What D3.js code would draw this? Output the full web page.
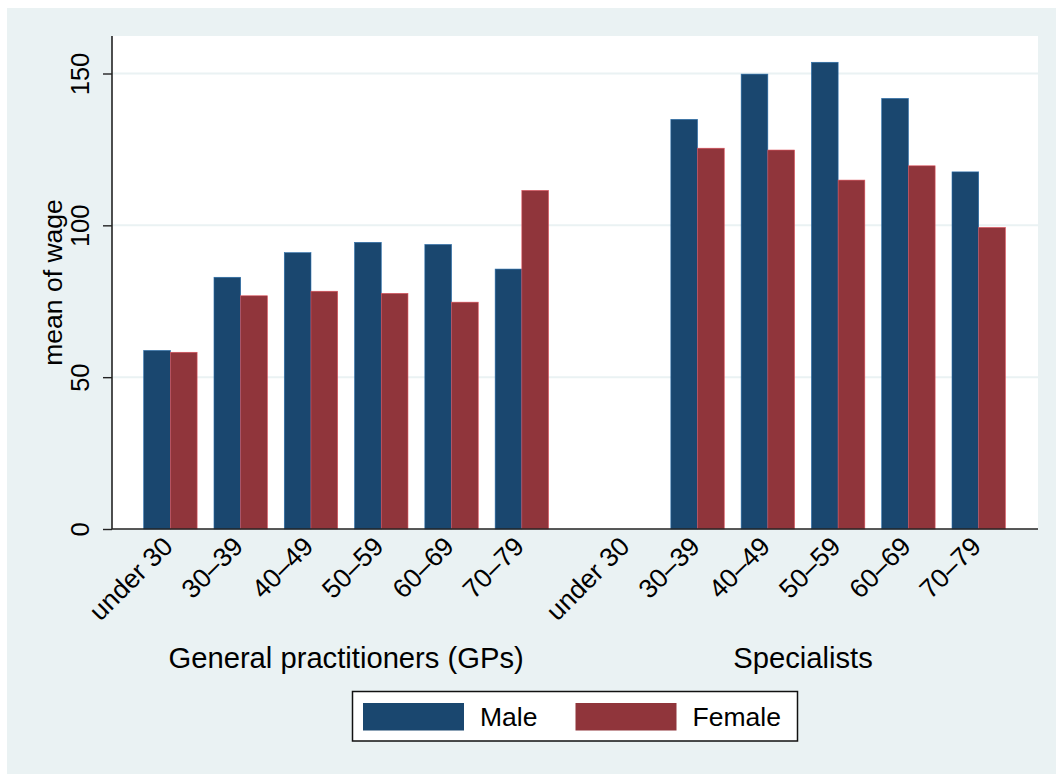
<!DOCTYPE html>
<html>
<head>
<meta charset="utf-8">
<script src="https://cdn.jsdelivr.net/npm/d3@7"></script>
<style>
  body { margin: 0; background: #fff; }
  text { font-family: "Liberation Sans", Arial, Helvetica, sans-serif; fill: #000; }
</style>
</head>
<body>
<script>
// chart values
const ageGroups = ["under 30", "30\u201339", "40\u201349", "50\u201359", "60\u201369", "70\u201379"]
const occupations = ["General practitioners (GPs)", "Specialists"]
const seriesNames = ["Male", "Female"]
const maleGP = [58.8, 82.9, 91.0, 94.4, 93.7, 85.6]
const femaleGP = [58.2, 76.8, 78.3, 77.6, 74.7, 111.5]
const maleSpec = [null, 134.9, 149.8, 153.7, 141.8, 117.6]
const femaleSpec = [null, 125.4, 124.8, 114.9, 119.6, 99.3]
const yTicks = [0, 50, 100, 150]

const width = 1056
const height = 774
const colors = ["#1a476f", "#90353b"]
const bgColor = "#eaf2f3"

const plot = {left: 112, right: 1038, top: 36, bottom: 529}
const barW = 26.7

// slot index: GPs 0..5, specialists 6.5..11.5 (half-slot gap between the two)
const rows = []
occupations.forEach(function (occ, oi) {
  const m = oi === 0 ? maleGP : maleSpec
  const f = oi === 0 ? femaleGP : femaleSpec
  ageGroups.forEach(function (age, ai) {
    rows.push({occ: oi, age: age, slot: oi * 6.5 + ai, vals: [m[ai], f[ai]]})
  })
})

const x = d3.scaleLinear().domain([0, 11.5]).range([170.4, 978.7])
const y = d3.scaleLinear().domain([0, 150]).range([plot.bottom, 73.5])

const svg = d3.select("body").append("svg")
    .attr("width", width)
    .attr("height", height)

svg.append("rect")
    .attr("x", 7).attr("y", 8)
    .attr("width", width - 7).attr("height", height - 8)
    .attr("fill", bgColor)

svg.append("rect")
    .attr("x", plot.left).attr("y", plot.top)
    .attr("width", plot.right - plot.left).attr("height", plot.bottom - plot.top)
    .attr("fill", "#fff")

// gridlines
svg.selectAll(".grid")
    .data(yTicks.filter(function (d) { return d > 0 }))
    .enter().append("line")
    .attr("x1", plot.left).attr("x2", plot.right)
    .attr("y1", function (d) { return y(d) }).attr("y2", function (d) { return y(d) })
    .attr("stroke", bgColor)
    .attr("stroke-width", 2)

// bars
const groups = svg.selectAll(".grp")
    .data(rows)
    .enter().append("g")

groups.selectAll("rect")
    .data(function (d) {
      return d.vals.map(function (v, i) { return {v: v, i: i, slot: d.slot} })
        .filter(function (b) { return b.v !== null })
    })
    .enter().append("rect")
    .attr("x", function (b) { return x(b.slot) - barW + b.i * barW })
    .attr("y", function (b) { return y(b.v) })
    .attr("width", barW)
    .attr("height", function (b) { return y(0) - y(b.v) })
    .attr("fill", function (b) { return colors[b.i] })
    .attr("stroke", function (b) { return d3.color(colors[b.i]).brighter(1.2) })
    .attr("stroke-width", 0.6)

// y axis
const yAxis = svg.append("g")
    .attr("transform", `translate(${plot.left},0)`)
    .call(d3.axisLeft(y).tickValues(yTicks).tickSize(9).tickPadding(0).tickFormat(d3.format("d")))
yAxis.select(".domain").attr("d", `M0,${plot.top}V${plot.bottom}`).attr("stroke", "#222").attr("stroke-width", 1.6)
yAxis.selectAll(".tick line").attr("stroke", "#222").attr("stroke-width", 1.4)
yAxis.selectAll(".tick text")
    .attr("font-size", 25.5)
    .attr("font-family", "Liberation Sans, Arial, sans-serif")
    .attr("fill", "#000")
    .attr("text-anchor", "middle")
    .attr("x", null).attr("dy", null)
    .attr("transform", "translate(-23,0) rotate(-90)")

svg.append("text")
    .attr("transform", `translate(62,${(plot.top + plot.bottom) / 2}) rotate(-90)`)
    .attr("text-anchor", "middle")
    .attr("font-size", 26.5)
    .text("mean of wage")

// x axis line
svg.append("line")
    .attr("x1", plot.left).attr("x2", plot.right)
    .attr("y1", plot.bottom).attr("y2", plot.bottom)
    .attr("stroke", "#222").attr("stroke-width", 1.6)

// age labels
svg.selectAll(".agelab")
    .data(rows)
    .enter().append("text")
    .attr("transform", function (d) { return `translate(${x(d.slot) - 1},${plot.bottom + 14}) rotate(-45)` })
    .attr("text-anchor", "end")
    .attr("dominant-baseline", "middle")
    .attr("font-size", 26.5)
    .text(function (d) { return d.age })

// occupation labels
svg.selectAll(".occlab")
    .data(occupations)
    .enter().append("text")
    .attr("x", function (d, i) { return (x(i * 6.5) + x(i * 6.5 + 5)) / 2 })
    .attr("y", 668)
    .attr("text-anchor", "middle")
    .attr("font-size", 29.2)
    .text(function (d) { return d })

// legend
const legend = svg.append("g")
legend.append("rect")
    .attr("x", 352.5).attr("y", 691.5)
    .attr("width", 445).attr("height", 49.5)
    .attr("fill", "#fff").attr("stroke", "#111").attr("stroke-width", 1.5)

const legX = [363, 575.5]
seriesNames.forEach(function (name, i) {
  legend.append("rect")
      .attr("x", legX[i]).attr("y", 703)
      .attr("width", 101).attr("height", 27.5)
      .attr("fill", colors[i])
  legend.append("text")
      .attr("x", legX[i] + 117).attr("y", 726)
      .attr("font-size", 26.5)
      .text(name)
})
</script>
</body>
</html>
